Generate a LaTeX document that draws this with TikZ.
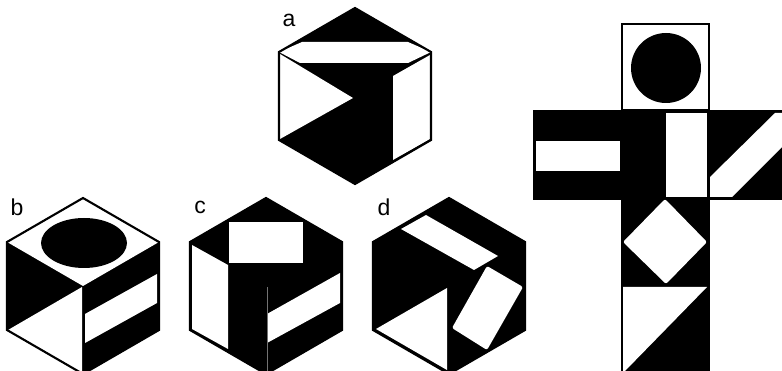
\documentclass[tikz,border=0pt]{standalone}
\usepackage{fontspec}
\setmainfont{Liberation Sans}
\usetikzlibrary{
  positioning               % relative placement
}
\tikzset{
  solidpart/.style={fill=black, draw=none},
  gappart/.style={fill=white, draw=none},
  softpart/.style={fill=white, draw=none, rounded corners=2pt},
  edgeline/.style={line width=2.1pt, black, line join=miter},
  faintline/.style={line width=0.4pt, black!55},
  letter/.style={font=\fontsize{23}{23}\selectfont, inner sep=0pt}
}
\newcommand{\hexpath}{(0,0) -- (76,44) -- (76,132) -- (0,176) -- (-76,132) -- (-76,44) -- cycle}

\begin{document}
\begin{tikzpicture}[x=1pt, y=-1pt]
  \clip (0,0) rectangle (782,371);

  % =============== cube a ===============
  \begin{scope}[shift={(355,8)}]
    \fill[solidpart] \hexpath;
    % strip on top
    \fill[gappart] (-76,44) -- (-53,34) -- (53,34) -- (76,44) -- (53,55) -- (-55,55) -- cycle;
    % left and right faces
    \fill[gappart] (-75,46) -- (-2,90) -- (-75,131) -- cycle;
    \fill[gappart] (38,68) -- (75,47) -- (75,131) -- (38,152) -- cycle;
    \draw[edgeline] \hexpath;
  \end{scope}
  \node[letter] (labela) at (289,20) {a};

  % =============== cube b ===============
  \begin{scope}[shift={(83,198)}]
    \fill[solidpart] \hexpath;
    \fill[gappart] (0,0) -- (76,44) -- (0,88) -- (-76,44) -- cycle;
    \fill[solidpart] (1,45) ellipse [x radius=43, y radius=25];
    \fill[gappart] (-75,132) -- (-1,89) -- (-1,176) -- cycle;
    \fill[gappart] (2,116) -- (74,76) -- (74,105) -- (2,145) -- cycle;
    \draw[edgeline] \hexpath;
  \end{scope}
  \node[letter] (labelb) at (17,207) {b};

  % =============== cube c ===============
  \begin{scope}[shift={(266,198)}]
    \fill[solidpart] \hexpath;
    \fill[gappart] (-37,24) rectangle (37,65);
    \fill[gappart] (-74,47) -- (-38,67) -- (-38,151) -- (-74,131) -- cycle;
    \fill[gappart] (1,116) -- (74,75) -- (74,105) -- (1,145) -- cycle;
    \draw[faintline] (1,89) -- (1,176);
    \draw[edgeline] \hexpath;
  \end{scope}
  \node[letter] (labelc) at (200,207) {c};

  % =============== cube d ===============
  \begin{scope}[shift={(449,198)}]
    \fill[solidpart] \hexpath;
    \fill[gappart] (-48,31) -- (-23,17) -- (49,58) -- (25,72) -- cycle;
    \fill[gappart] (-73,131) -- (-2,90) -- (-2,172) -- cycle;
    \fill[softpart] (38,68) -- (74,89) -- (38,152) -- (3,130) -- cycle;
    \draw[edgeline] \hexpath;
  \end{scope}
  \node[letter] (labeld) at (384,207) {d};

  % =============== unfolded net ===============
  \begin{scope}[shift={(621,23)}]
    % top square with disc
    \draw[edgeline] (1,1) rectangle (88,87);
    \fill[solidpart] (45,45) circle (35);
    % cross arm
    \fill[solidpart] (-88,87) rectangle (161,177);
    \fill[gappart] (-85,118) rectangle (-1,148);
    \fill[gappart] (45,90) rectangle (86,174);
    \fill[gappart] (89,154) -- (154,90) -- (161,90) -- (161,124) -- (111,174) -- (89,174) -- cycle;
    % column below
    \fill[solidpart] (0,177) rectangle (89,350);
    \fill[softpart] (44,176) -- (86,219) -- (45,261) -- (2,219) -- cycle;
    \fill[gappart] (2,264) -- (86,264) -- (4,348) -- (2,348) -- cycle;
  \end{scope}

\end{tikzpicture}
\end{document}
